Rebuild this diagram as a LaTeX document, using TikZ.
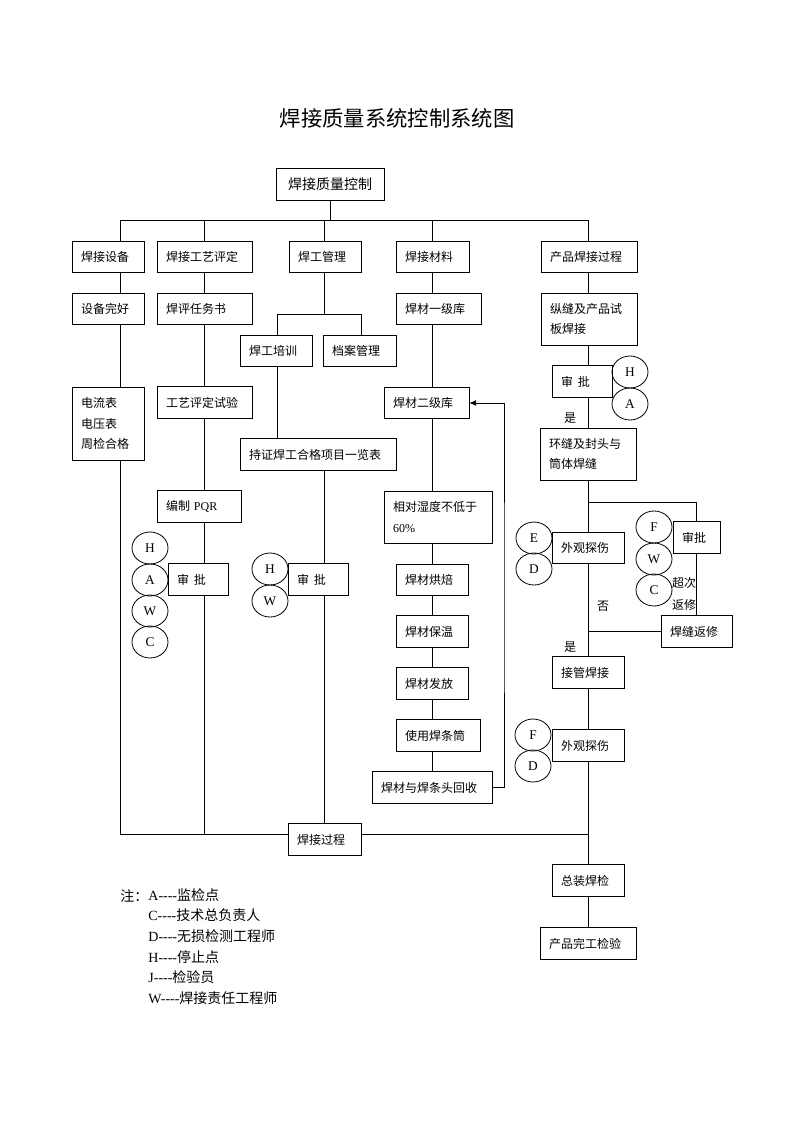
\documentclass[tikz,border=0pt]{standalone}
\usepackage{fontspec}
\setmainfont{Liberation Serif}
\newfontfamily\cjk{Noto Sans CJK SC}
\usetikzlibrary{shapes.geometric,arrows.meta}

\begin{document}
\begin{tikzpicture}[%
  x=0.75pt, y=-0.75pt,
  line width=0.6pt,
  >={Latex[length=5pt,width=4.5pt]},
  box/.style={%
    draw,
    fill=white,
    align=left,
    font=\cjk\fontsize{9}{15.5}\selectfont,
    inner xsep=6.75pt,
    inner ysep=0pt,
    minimum height=23.5pt
  },
  tall/.style={box, minimum height=39pt},
  stamp/.style={%
    draw,
    ellipse,
    minimum width=27pt,
    minimum height=24pt,
    inner sep=0pt,
    font=\fontsize{10}{12}\selectfont
  },
  lbl/.style={font=\cjk\fontsize{9}{17}\selectfont, inner sep=0pt, align=left}
  ]
  \useasboundingbox (0,0) rectangle (793,1122);

  \node (title) at (397,118) {\cjk\fontsize{16}{16}\selectfont 焊接质量系统控制系统图};

  \node[box, minimum width=81pt, minimum height=24pt, align=center,
    font=\cjk\fontsize{10.5}{12}\selectfont] (qc) at (330,184) {焊接质量控制};

  % first row
  \node[box, text width=40.5pt] (sb) at (108,257) {焊接设备};
  \node[box, text width=57.75pt] (gp) at (204.5,257) {焊接工艺评定};
  \node[box, text width=40.5pt] (hg) at (325,257) {焊工管理};
  \node[box, text width=41.25pt] (cl) at (432.5,257) {焊接材料};
  \node[box, text width=58.5pt] (cp) at (589,257) {产品焊接过程};

  % equipment and procedure
  \node[box, text width=40.5pt] (sh) at (108,309) {设备完好};
  \node[box, text width=40.5pt, minimum height=54.75pt] (dl) at (108,423.5) {电流表\\电压表\\周检合格};
  \node[box, text width=57.75pt] (rw) at (204.5,309) {焊评任务书};
  \node[box, text width=57.75pt] (sy) at (204.5,402.5) {工艺评定试验};
  \node[box, text width=49.5pt] (pqr) at (199,506.5) {编制 {\rmfamily PQR}};
  \node[box, text width=31.5pt] (spL) at (198,579.5) {审\hspace{0.4em}批};

  % welders
  \node[box, text width=40.5pt] (px) at (276,351) {焊工培训};
  \node[box, text width=41.25pt] (da) at (359.5,351) {档案管理};
  \node[box, text width=103.5pt] (zs) at (318,454.5) {持证焊工合格项目一览表};
  \node[box, text width=31.5pt] (spM) at (318,579.5) {审\hspace{0.4em}批};

  % materials
  \node[box, text width=50.25pt] (yj) at (438.5,309) {焊材一级库};
  \node[box, text width=50.25pt] (ej) at (426.5,403) {焊材二级库};
  \node[tall, text width=67.5pt] (sd) at (438,517) {相对湿度不低于\\{\rmfamily 60\%}};
  \node[box, text width=40.5pt] (hb) at (432,580) {焊材烘焙};
  \node[box, text width=40.5pt] (bw) at (432,631.5) {焊材保温};
  \node[box, text width=40.5pt] (ff) at (432,683.5) {焊材发放};
  \node[box, text width=49.5pt] (ht) at (438,735.5) {使用焊条筒};
  \node[box, text width=76.5pt] (hs) at (432,787.5) {焊材与焊条头回收};

  % product
  \node[tall, text width=58.5pt] (zf) at (589,319) {纵缝及产品试\\板焊接};
  \node[box, text width=31.5pt] (spR) at (582,381.5) {审\hspace{0.4em}批};
  \node[tall, text width=58.5pt] (hf) at (588,454) {环缝及封头与\\筒体焊缝};
  \node[box, text width=40.5pt] (wg1) at (588,548) {外观探伤};
  \node[box, text width=21.75pt] (spR2) at (696.5,537.5) {审批};
  \node[box, text width=39.75pt] (fx) at (696.5,631.5) {焊缝返修};
  \node[box, text width=40.5pt] (jg) at (588,672.5) {接管焊接};
  \node[box, text width=40.5pt] (wg2) at (588,745.5) {外观探伤};
  \node[box, text width=40.5pt] (zz) at (588,880.5) {总装焊检};
  \node[box, text width=58.5pt] (wj) at (588,943.5) {产品完工检验};
  \node[box, text width=41.25pt] (gc) at (324.5,839.5) {焊接过程};

  % inspection marks
  \node[stamp] (aH) at (150,548) {H};
  \node[stamp] (aA) at (150,580) {A};
  \node[stamp] (aW) at (150,611) {W};
  \node[stamp] (aC) at (150,642) {C};
  \node[stamp] (bH) at (270,569) {H};
  \node[stamp] (bW) at (270,601) {W};
  \node[stamp] (cH) at (630,372) {H};
  \node[stamp] (cA) at (630,404) {A};
  \node[stamp] (dE) at (534,538) {E};
  \node[stamp] (dD) at (534,569) {D};
  \node[stamp] (eF) at (654,527) {F};
  \node[stamp] (eW) at (654,559) {W};
  \node[stamp] (eC) at (654,590) {C};
  \node[stamp] (fF) at (533,735) {F};
  \node[stamp] (fD) at (533,766) {D};

  \node[lbl] (s1) at (570,418) {是};
  \node[lbl] (s2) at (570,647) {是};
  \node[lbl] (fo) at (603,606) {否};
  \node[lbl] (cx) at (684,594) {超次\\返修};

  \coordinate (k1) at (120,220);
  \coordinate (k2) at (204,220);
  \coordinate (k3) at (324,220);
  \coordinate (k4) at (432,220);
  \coordinate (k5) at (588,220);
  \coordinate (hjL) at (277,314);
  \coordinate (hjR) at (361,314);
  \coordinate (br) at (588,502);
  \coordinate (ret) at (504,600);
  \coordinate (botL) at (120,834);
  \coordinate (botR) at (588,834);

  \draw (k1) -- (k5);
  \draw (qc) -- (qc |- k1);
  \foreach \k/\n in {k1/sb, k2/gp, k3/hg, k4/cl, k5/cp}
    \draw (\k) -- (\k |- \n.north);

  \foreach \a/\b in {sb/sh, sh/dl}
    \draw (\a.south -| k1) -- (\b.north -| k1);
  \draw (dl.south -| k1) -- (botL);

  \foreach \a/\b in {gp/rw, rw/sy, sy/pqr, pqr/spL}
    \draw (\a.south -| k2) -- (\b.north -| k2);
  \draw (spL.south -| k2) -- (k2 |- botL);

  \draw (hg.south -| k3) -- (k3 |- hjL);
  \draw (hjL) -- (hjR);
  \draw (hjL) -- (hjL |- px.north);
  \draw (hjR) -- (hjR |- da.north);
  \draw (px.south -| hjL) -- (zs.north -| hjL);
  \draw (zs.south -| k3) -- (spM.north -| k3);
  \draw (spM.south -| k3) -- (gc.north -| k3);

  \foreach \a/\b in {cl/yj, yj/ej, ej/sd, sd/hb, hb/bw, bw/ff, ff/ht, ht/hs}
    \draw (\a.south -| k4) -- (\b.north -| k4);
  \draw[->] (hs.east) -| (ret) |- (ej.east);

  \foreach \a/\b in {cp/zf, zf/spR, spR/hf, hf/wg1, wg1/jg, jg/wg2, wg2/zz, zz/wj}
    \draw (\a.south -| k5) -- (\b.north -| k5);
  \draw (br) -| (spR2.north);
  \draw (spR2) -- (fx);
  \draw (k5 |- fx.west) -- (fx.west);

  \draw (botL) -- (gc.west |- botL);
  \draw (gc.east |- botL) -- (botR);

  % notes
  \node[anchor=west, inner sep=0pt, font=\cjk\fontsize{10.5}{15.5}\selectfont] (zhu) at (120,896) {注：};
  \node[anchor=north west, inner sep=0pt, align=left, font=\fontsize{10.5}{15.5}\selectfont] (notes) at (148,888)
    {A-{}-{}-{}-{\cjk 监检点}\\C-{}-{}-{}-{\cjk 技术总负责人}\\D-{}-{}-{}-{\cjk 无损检测工程师}\\H-{}-{}-{}-{\cjk 停止点}\\J-{}-{}-{}-{\cjk 检验员}\\W-{}-{}-{}-{\cjk 焊接责任工程师}};
\end{tikzpicture}
\end{document}
